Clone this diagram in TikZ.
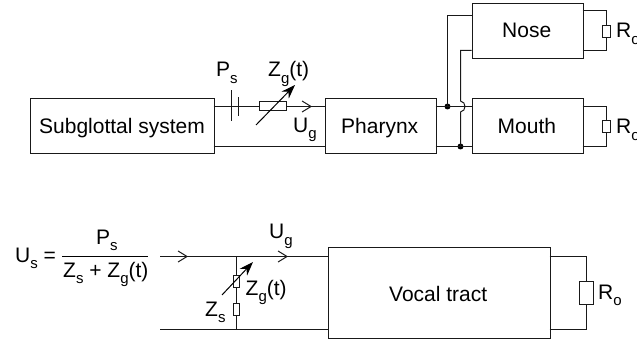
\documentclass[tikz,border=0pt]{standalone}
\usepackage{fontspec}
\setmainfont{Liberation Sans}
\usetikzlibrary{arrows.meta}
\newcommand{\lowsub}[1]{\raisebox{-0.3em}{\fontsize{15}{15}\selectfont #1}}
\tikzset{
  x=1pt,y=-1pt,
  every node/.style={font=\fontsize{21}{25}\selectfont},
  wire/.style={line width=1pt,line join=miter,black!90},
  blockbox/.style={draw=black!90,line width=1pt,inner sep=0pt,anchor=north west},
  label/.style={inner sep=0pt,anchor=base west},
  resist/.style={draw=black!90,line width=1pt,fill=white,inner sep=0pt,rectangle},
  barb/.style={wire,-{Straight Barb[length=9pt,width=11pt,line width=1pt]}},
  vary/.style={line width=1pt,-{Stealth[length=14pt,width=10pt]}},
  dot/.style={circle,fill=black,inner sep=0pt,minimum size=6pt},
}
\begin{document}
\begin{tikzpicture}
\useasboundingbox (0,0) rectangle (637,339);
% blocks
\node[blockbox,minimum width=184pt,minimum height=55pt] (sub) at (29.5,98.5) {};
\node[label] at (39,134) {Subglottal system};
\node[blockbox,minimum width=111pt,minimum height=55pt] (ph) at (324.5,98.5) {};
\node[label] at (341,134) {Pharynx};
\node[blockbox,minimum width=111pt,minimum height=55pt] (nose) at (471.5,3.5) {};
\node[label] at (502,38) {Nose};
\node[blockbox,minimum width=111pt,minimum height=55pt] (mouth) at (471.5,98.5) {};
\node[label] at (497.5,134) {Mouth};
\node[blockbox,minimum width=222pt,minimum height=91pt] (vt) at (327.5,246.5) {};
\node[label] at (389,301.5) {Vocal tract};
% top source line
\coordinate (sa) at (213.5,106.5);
\coordinate (pa) at (324.5,106.5);
\coordinate (tip1) at (312,106.5);
\draw[wire] (sa) -- (pa);
\draw[barb] (302,106.5) -- (tip1);
\draw[wire] (213.5,146.5) coordinate (sb) -- (324.5,146.5) coordinate (pb);
\draw[wire] (231.5,90.5) coordinate (c1t) -- (231.5,121.5) coordinate (c1b);
\draw[wire] (238.5,97.5) coordinate (c2t) -- (238.5,116.5) coordinate (c2b);
\node[resist,minimum width=27pt,minimum height=9pt] (rg) at (272.5,106.5) {};
\coordinate (va) at (256,125);
\coordinate (vb) at (295,85);
\draw[vary] (va) -- (vb);
\node[label] at (216,77) {P\lowsub{s}};
\node[label] at (268,77) {Z\lowsub{g}(t)};
\node[label] at (293,132.5) {U\lowsub{g}};
% branch network
\coordinate (pr1) at (435.5,106.5);
\coordinate (pr2) at (435.5,146.5);
\coordinate (mo1) at (471.5,106.5);
\coordinate (mo2) at (471.5,146.5);
\node[dot] (d1) at (447.5,106.5) {};
\node[dot] (d2) at (460.5,146.5) {};
\draw[wire] (pr1) -- (mo1);
\draw[wire] (pr2) -- (mo2);
\draw[wire] (d1.center) -- (447.5,15.5) coordinate (k1) -- (471.5,15.5) coordinate (n1);
\draw[wire] (d2.center) -- (460.5,112) .. controls (466.5,111) and (466.5,102) .. (460.5,101) -- (460.5,50.5) coordinate (k2) -- (471.5,50.5) coordinate (n2);
% nose load
\node[resist,minimum width=8pt,minimum height=12pt] (rn) at (606.5,31.5) {};
\draw[wire] (582.5,10.5) coordinate (na) -- (606.5,10.5) -- (rn.north);
\draw[wire] (582.5,50.5) coordinate (nb) -- (606.5,50.5) -- (rn.south);
\node[label] at (616,38) {R\lowsub{o}};
% mouth load
\node[resist,minimum width=8pt,minimum height=12pt] (rm) at (606.5,126.5) {};
\draw[wire] (582.5,106.5) coordinate (ma) -- (606.5,106.5) -- (rm.north);
\draw[wire] (582.5,146.5) coordinate (mb) -- (606.5,146.5) -- (rm.south);
\node[label] at (616,134) {R\lowsub{o}};
% lower circuit
\draw[wire] (160,256.5) coordinate (la) -- (327.5,256.5) coordinate (lb);
\draw[wire] (160,329.5) coordinate (lc) -- (327.5,329.5) coordinate (ld);
\draw[barb] (176,256.5) -- (188,256.5);
\draw[barb] (276,256.5) -- (288,256.5);
\node[resist,minimum width=6pt,minimum height=12pt] (zg) at (236.5,281) {};
\node[resist,minimum width=6pt,minimum height=12pt] (zs) at (236.5,309.5) {};
\draw[wire] (236.5,256.5) coordinate (j1) -- (zg.north);
\draw[wire] (zg.south) -- (zs.north);
\draw[wire] (zs.south) -- (236.5,329.5) coordinate (j2);
\draw[vary] (222,295) coordinate (vc) -- (253,262) coordinate (vd);
\node[label] at (15,262) {U\lowsub{s} =};
\coordinate (fa) at (62,256.5);
\coordinate (fb) at (148,256.5);
\draw[line width=1pt] (fa) -- (fb);
\node[label] at (96,244) {P\lowsub{s}};
\node[label] at (63,277) {Z\lowsub{s} + Z\lowsub{g}(t)};
\node[label] at (269,239) {U\lowsub{g}};
\node[label] at (245.5,295) {Z\lowsub{g}(t)};
\node[label] at (205,316) {Z\lowsub{s}};
% vocal tract load
\node[resist,minimum width=14pt,minimum height=23pt] (ro) at (586.5,292.5) {};
\draw[wire] (549.5,256.5) coordinate (ve) -- (586.5,256.5) -- (ro.north);
\draw[wire] (549.5,329.5) coordinate (vf) -- (586.5,329.5) -- (ro.south);
\node[label] at (598,299.5) {R\lowsub{o}};
\end{tikzpicture}
\end{document}
